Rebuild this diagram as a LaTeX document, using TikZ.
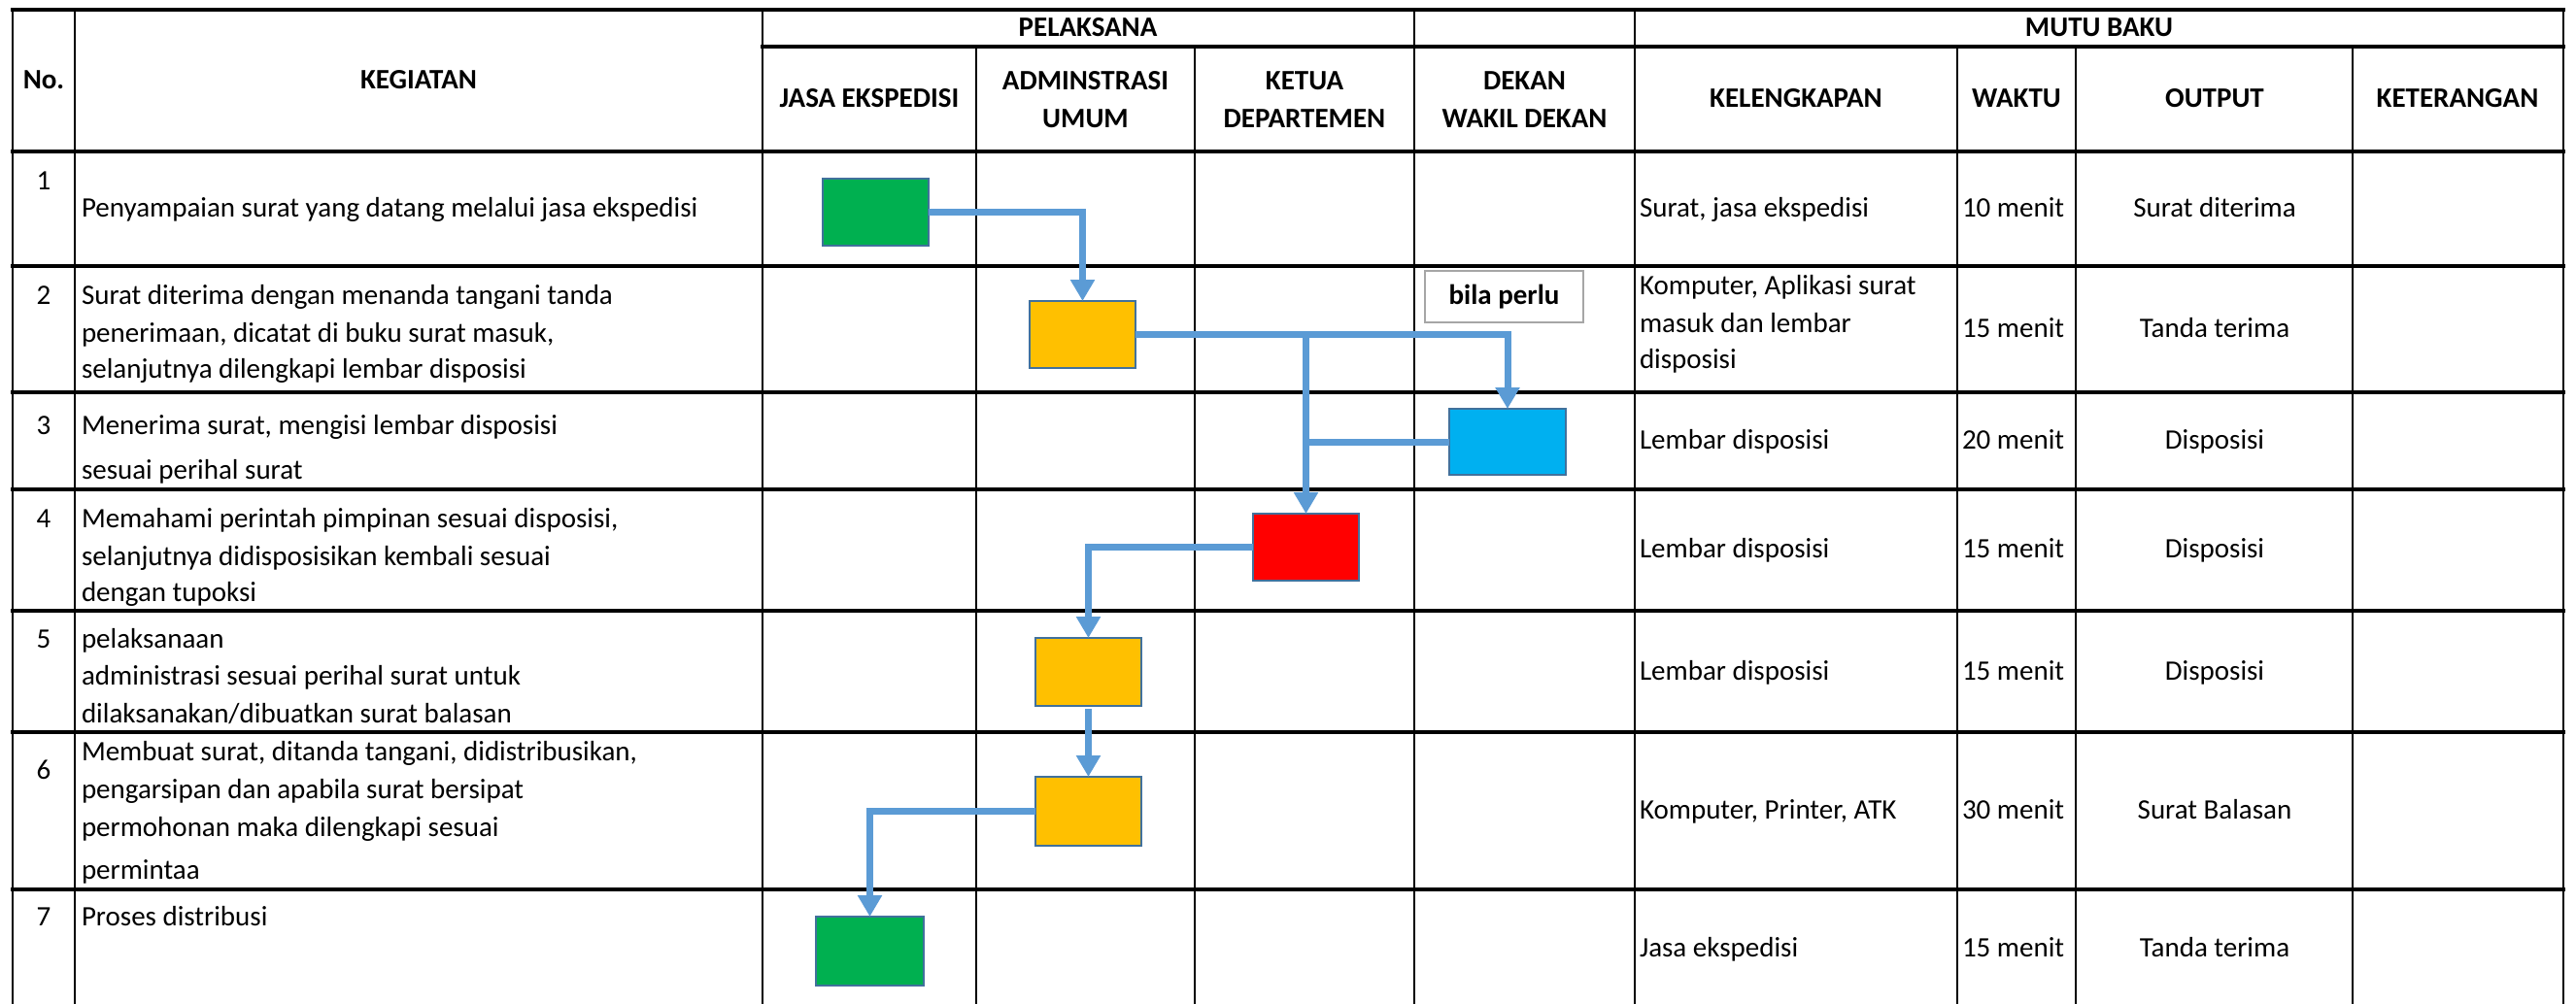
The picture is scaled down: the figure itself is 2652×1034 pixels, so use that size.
\documentclass[tikz,border=0pt]{standalone}
\usepackage{fontspec}
\setmainfont{Carlito}
\usetikzlibrary{arrows.meta}
\definecolor{flowline}{HTML}{5B9BD5}
\definecolor{boxedge}{HTML}{41719C}
\definecolor{cgreen}{HTML}{00B050}
\definecolor{cyellow}{HTML}{FFC000}
\definecolor{cblue}{HTML}{00B0F0}
\definecolor{cred}{HTML}{FF0000}
\definecolor{notegray}{HTML}{A6A6A6}
\begin{document}
\begin{tikzpicture}[x=0.5pt,y=-0.5pt,
  every node/.style={font=\fontsize{14.5pt}{19.5pt}\selectfont, inner sep=0pt, outer sep=0pt},
  hrule/.style={line width=1.75pt, line cap=rect, black},
  vrule/.style={line width=1.25pt, line cap=rect, black},
  txt/.style={anchor=base west},
  ctxt/.style={anchor=base},
  hdr/.style={anchor=base, font=\fontsize{14.5pt}{19.5pt}\selectfont\bfseries},
  flowbox/.style={draw=boxedge, line width=1pt, minimum width=54.5pt, minimum height=34.5pt},
  flow/.style={draw=flowline, line width=3.5pt},
  flowarrow/.style={flow, -{Triangle[length=11pt,width=12pt]}},
  note/.style={draw=notegray, line width=1.25pt, minimum width=81.5pt, minimum height=26.5pt,
    font=\fontsize{14.5pt}{19.5pt}\selectfont\bfseries}]
\useasboundingbox (0,0) rectangle (2652,1034);
\fill[white] (0,0) rectangle (2652,1034);

% ---- table grid ----
\foreach \x in {13,77,785,1456,1683,2639} \draw[vrule] (\x,10) -- (\x,1034);
\foreach \x in {1005,1230,2015,2137,2422} \draw[vrule] (\x,48) -- (\x,1034);
\draw[hrule] (13,10) -- (2639,10);
\draw[hrule] (785,48) -- (2639,48);
\foreach \y in {156,274,404,504,629,754,916} \draw[hrule] (13,\y) -- (2639,\y);

% ---- headers ----
\node[hdr] (hNo) at (45,91) {No.};
\node[hdr] (hKeg) at (431,91) {KEGIATAN};
\node[hdr] (hPel) at (1120,37) {PELAKSANA};
\node[hdr] (hMutu) at (2161,37) {MUTU BAKU};
\node[hdr] (hJasa) at (895,110) {JASA EKSPEDISI};
\node[hdr] (hAdm1) at (1117.5,92) {ADMINSTRASI};
\node[hdr] (hAdm2) at (1117.5,131) {UMUM};
\node[hdr] (hKet1) at (1343,92) {KETUA};
\node[hdr] (hKet2) at (1343,131) {DEPARTEMEN};
\node[hdr] (hDek1) at (1569.5,92) {DEKAN};
\node[hdr] (hDek2) at (1569.5,131) {WAKIL DEKAN};
\node[hdr] (hKel) at (1849,110) {KELENGKAPAN};
\node[hdr] (hWak) at (2076,110) {WAKTU};
\node[hdr] (hOut) at (2280,110) {OUTPUT};
\node[hdr] (hKtr) at (2530,110) {KETERANGAN};

% ---- numbers ----
\node[ctxt] (n1) at (45,195) {1};
\node[ctxt] (n2) at (45,313) {2};
\node[ctxt] (n3) at (45,447) {3};
\node[ctxt] (n4) at (45,543) {4};
\node[ctxt] (n5) at (45,667) {5};
\node[ctxt] (n6) at (45,802) {6};
\node[ctxt] (n7) at (45,953) {7};

% ---- kegiatan ----
\node[txt] (k1a) at (84,223) {Penyampaian surat yang datang melalui jasa ekspedisi};
\node[txt] (k2a) at (84,313) {Surat diterima dengan menanda tangani tanda};
\node[txt] (k2b) at (84,352) {penerimaan, dicatat di buku surat masuk,};
\node[txt] (k2c) at (84,389) {selanjutnya dilengkapi lembar disposisi};
\node[txt] (k3a) at (84,447) {Menerima surat, mengisi lembar disposisi};
\node[txt] (k3b) at (84,493) {sesuai perihal surat};
\node[txt] (k4a) at (84,543) {Memahami perintah pimpinan sesuai disposisi,};
\node[txt] (k4b) at (84,582) {selanjutnya didisposisikan kembali sesuai};
\node[txt] (k4c) at (84,619) {dengan tupoksi};
\node[txt] (k5a) at (84,667) {pelaksanaan};
\node[txt] (k5b) at (84,705) {administrasi sesuai perihal surat untuk};
\node[txt] (k5c) at (84,744) {dilaksanakan/dibuatkan surat balasan};
\node[txt] (k6a) at (84,783) {Membuat surat, ditanda tangani, didistribusikan,};
\node[txt] (k6b) at (84,822) {pengarsipan dan apabila surat bersipat};
\node[txt] (k6c) at (84,861) {permohonan maka dilengkapi sesuai};
\node[txt] (k6d) at (84,905) {permintaa};
\node[txt] (k7a) at (84,953) {Proses distribusi};

% ---- kelengkapan ----
\node[txt] (l1) at (1688,223) {Surat, jasa ekspedisi};
\node[txt] (l2a) at (1688,303) {Komputer, Aplikasi surat};
\node[txt] (l2b) at (1688,342) {masuk dan lembar};
\node[txt] (l2c) at (1688,379) {disposisi};
\node[txt] (l3) at (1688,462) {Lembar disposisi};
\node[txt] (l4) at (1688,574) {Lembar disposisi};
\node[txt] (l5) at (1688,700) {Lembar disposisi};
\node[txt] (l6) at (1688,843) {Komputer, Printer, ATK};
\node[txt] (l7) at (1688,985) {Jasa ekspedisi};

% ---- waktu ----
\node[txt] (w1) at (2020,223) {10 menit};
\node[txt] (w2) at (2020,347) {15 menit};
\node[txt] (w3) at (2020,462) {20 menit};
\node[txt] (w4) at (2020,574) {15 menit};
\node[txt] (w5) at (2020,700) {15 menit};
\node[txt] (w6) at (2020,843) {30 menit};
\node[txt] (w7) at (2020,985) {15 menit};

% ---- output ----
\node[ctxt] (o1) at (2280,223) {Surat diterima};
\node[ctxt] (o2) at (2280,347) {Tanda terima};
\node[ctxt] (o3) at (2280,462) {Disposisi};
\node[ctxt] (o4) at (2280,574) {Disposisi};
\node[ctxt] (o5) at (2280,700) {Disposisi};
\node[ctxt] (o6) at (2280,843) {Surat Balasan};
\node[ctxt] (o7) at (2280,985) {Tanda terima};

% ---- flow boxes ----
\node[flowbox, fill=cgreen] (g1) at (901.5,218.5) {};
\node[flowbox, fill=cyellow] (y1) at (1114.5,344.5) {};
\node[flowbox, fill=cblue, minimum width=60pt, minimum height=34pt] (b1) at (1552,455) {};
\node[flowbox, fill=cred] (r1) at (1344.5,563.5) {};
\node[flowbox, fill=cyellow, minimum height=35pt] (y2) at (1120.5,692) {};
\node[flowbox, fill=cyellow, minimum height=35.5pt] (y3) at (1120.5,835.5) {};
\node[flowbox, fill=cgreen, minimum width=55.5pt, minimum height=35.5pt] (g2) at (895.5,979.5) {};
\node[note] (bila) at (1548.5,305.5) {bila perlu};

% ---- connectors ----
\coordinate (j1) at (y1.east -| r1.north);
\coordinate (j2) at (b1.west -| r1.north);
\draw[flowarrow] (g1.east) -| (y1.north);
\draw[flowarrow] (y1.east) -| (b1.north);
\draw[flowarrow] (j1) -- (r1.north);
\draw[flow] (b1.west) -- (j2);
\draw[flowarrow] (r1.west) -| (y2.north);
\draw[flowarrow, shorten <=1.5pt] (y2.south) -- (y3.north);
\draw[flowarrow] (y3.west) -| (g2.north);
\end{tikzpicture}
\end{document}
